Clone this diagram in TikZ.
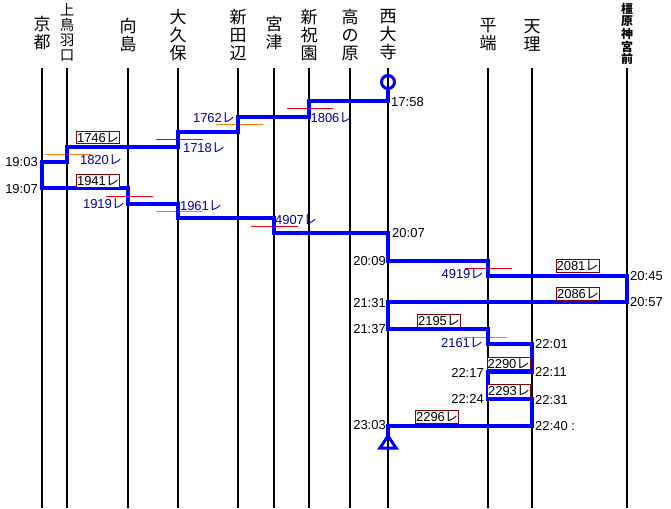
\documentclass[tikz,border=0pt]{standalone}
\usepackage{fontspec}
\setmainfont{Liberation Sans}
\newfontfamily\cjk{Noto Sans CJK JP}
\definecolor{routeblue}{RGB}{0,0,255}
\definecolor{navytxt}{RGB}{0,0,160}
\definecolor{boxred}{RGB}{128,0,0}
\definecolor{orng}{RGB}{255,128,0}
\newcommand{\re}{{\cjk レ}}
\begin{document}
\begin{tikzpicture}[x=1pt,y=-1pt,
  stline/.style={line width=2pt,black},
  stname/.style={font=\cjk\fontsize{17}{18}\selectfont,align=center,inner sep=0},
  stnamesm/.style={font=\cjk\fontsize{14.5}{15}\selectfont,align=center,inner sep=0},
  stnamexs/.style={font=\cjk\bfseries\fontsize{12}{12.7}\selectfont,align=center,inner sep=0},
  routeline/.style={line width=4.8pt,routeblue,line join=miter},
  tm/.style={font=\fontsize{13}{13}\selectfont,inner sep=0},
  trn/.style={font=\fontsize{13}{13}\selectfont,text=navytxt,inner sep=0},
  tbox/.style={draw=boxred,line width=1pt,fill=white,inner sep=0,minimum width=43pt,minimum height=12.5pt,font=\fontsize{13}{13}\selectfont},
  mkred/.style={line width=1pt,red},
  mkorg/.style={line width=1pt,orng}]
\useasboundingbox (0,0) rectangle (671,508);
% station lines
\foreach \n/\x in {1/42,2/67,3/128,4/178,5/238,6/274,7/309,8/350,9/388,10/488,11/532,12/627}{
  \coordinate (t\n) at (\x,68);
  \coordinate (b\n) at (\x,508);
  \draw[stline] (t\n) -- (b\n);
}
% station names
\node[stname] (n1) at (42,33) {京\\都};
\node[stnamesm] (n2) at (67,32.5) {上\\鳥\\羽\\口};
\node[stname] (n3) at (128,35) {向\\島};
\node[stname] (n4) at (178,35) {大\\久\\保};
\node[stname] (n5) at (238,35) {新\\田\\辺};
\node[stname] (n6) at (274,33) {宮\\津};
\node[stname] (n7) at (309,35) {新\\祝\\園};
\node[stname] (n8) at (350,35) {高\\の\\原};
\node[stname] (n9) at (388,35) {西\\大\\寺};
\node[stname] (n10) at (488,35) {平\\端};
\node[stname] (n11) at (532,35) {天\\理};
\node[stnamexs] (n12) at (627,34) {橿\\原\\神\\宮\\前};
% small marks
\coordinate (m1a) at (216,124); \coordinate (m1b) at (263,124);
\coordinate (m2a) at (287,109); \coordinate (m2b) at (333,109);
\coordinate (m3a) at (156,139); \coordinate (m3b) at (203,139);
\coordinate (m4a) at (45,154);  \coordinate (m4b) at (92,154);
\coordinate (m5a) at (106,196); \coordinate (m5b) at (153,196);
\coordinate (m6a) at (156,211); \coordinate (m6b) at (203,211);
\coordinate (m7a) at (251,226); \coordinate (m7b) at (298,226);
\coordinate (m8a) at (465,268); \coordinate (m8b) at (512,268);
\coordinate (m9a) at (461,337); \coordinate (m9b) at (507,337);
\draw[mkorg] (m1a) -- (m1b);
\draw[mkred] (m2a) -- (m2b);
\draw[mkred] (m3a) -- (m3b);
\draw[mkorg] (m4a) -- (m4b);
\draw[mkred] (m5a) -- (m5b);
\draw[mkorg] (m6a) -- (m6b);
\draw[mkred] (m7a) -- (m7b);
\draw[mkred] (m8a) -- (m8b);
\draw[mkorg] (m9a) -- (m9b);
% start and end marks
\node[circle,draw=routeblue,line width=3pt,minimum size=13pt,inner sep=0] (start) at (388,82) {};
\coordinate (endtop) at (388,436);
\draw[routeblue,line width=3pt,line join=miter] (endtop) -- (380,448) -- (396,448) -- cycle;
% route
\draw[routeline] (start.south) -- (388,101) -- (309,101) -- (309,117) -- (238,117) -- (238,132)
  -- (178,132) -- (178,147) -- (67,147) -- (67,162) -- (42,162) -- (42,188) -- (128,188)
  -- (128,204) -- (178,204) -- (178,218) -- (274,218) -- (274,233) -- (388,233) -- (388,261)
  -- (488,261) -- (488,276) -- (627,276) -- (627,302) -- (388,302) -- (388,329) -- (488,329)
  -- (488,344) -- (532,344) -- (532,372) -- (488,372) -- (488,399) -- (532,399) -- (532,426)
  -- (388,426) -- (endtop);
% times
\node[tm,anchor=west] (h1) at (391,102.5) {17:58};
\node[tm,anchor=east] (h2) at (38,162.5) {19:03};
\node[tm,anchor=east] (h3) at (38,189) {19:07};
\node[tm,anchor=west] (h4) at (392,233.5) {20:07};
\node[tm,anchor=east] (h5) at (386,261) {20:09};
\node[tm,anchor=west] (h6) at (630,276) {20:45};
\node[tm,anchor=west] (h7) at (630,302) {20:57};
\node[tm,anchor=east] (h8) at (386,303) {21:31};
\node[tm,anchor=east] (h9) at (386,329) {21:37};
\node[tm,anchor=west] (h10) at (535,344) {22:01};
\node[tm,anchor=west] (h11) at (535,372) {22:11};
\node[tm,anchor=east] (h12) at (484,373) {22:17};
\node[tm,anchor=east] (h13) at (484,399) {22:24};
\node[tm,anchor=west] (h14) at (535,400) {22:31};
\node[tm,anchor=east] (h15) at (386,425) {23:03};
\node[tm,anchor=west] (h16) at (535,426) {22:40 :};
% train numbers (blue)
\node[trn] (r1) at (214,117.5) {1762\re};
\node[trn] (r2) at (331.5,117.5) {1806\re};
\node[trn] (r3) at (204,147.5) {1718\re};
\node[trn] (r4) at (101,160) {1820\re};
\node[trn] (r5) at (104,204) {1919\re};
\node[trn] (r6) at (201,206) {1961\re};
\node[trn] (r7) at (296,219.5) {4907\re};
\node[trn] (r8) at (462.5,274) {4919\re};
\node[trn] (r9) at (462,343) {2161\re};
% boxed train numbers
\node[tbox] (k1) at (98,137.5) {1746\re};
\node[tbox] (k2) at (98,181) {1941\re};
\node[tbox] (k3) at (577.5,266) {2081\re};
\node[tbox] (k4) at (578,294) {2086\re};
\node[tbox] (k5) at (439,321) {2195\re};
\node[tbox] (k6) at (508.5,363.5) {2290\re};
\node[tbox] (k7) at (509,391) {2293\re};
\node[tbox] (k8) at (437,417) {2296\re};
\end{tikzpicture}
\end{document}
